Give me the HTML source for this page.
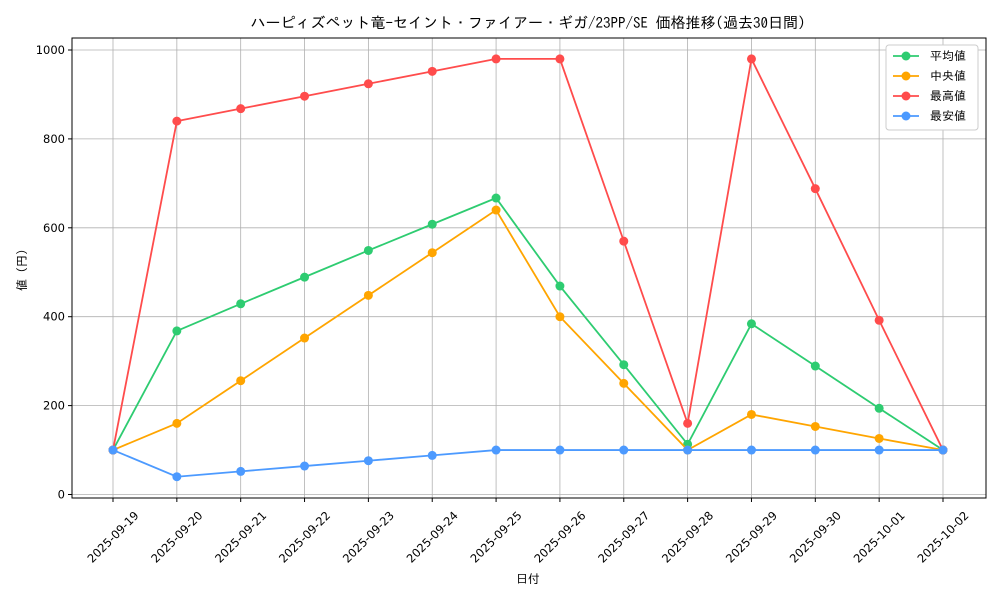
<!DOCTYPE html>
<html><head><meta charset="utf-8"><style>
body{margin:0;background:#fff}
svg{font-family:"DejaVu Sans","IPAGothic",sans-serif}
.cjk{font-family:"IPAGothic","Noto Sans CJK JP",monospace}
</style></head><body>
<svg id="chart" width="1000" height="600">
<text class="cjk" x="528" y="28" font-size="15" text-anchor="middle">ハーピィズペット竜-セイント・ファイアー・ギガ/23PP/SE 価格推移(過去30日間)</text>
<g id="grid"></g><g id="axes"></g><g id="series"></g><g id="legend"></g>
</svg>
<script>
const categories=["2025-09-19","2025-09-20","2025-09-21","2025-09-22","2025-09-23","2025-09-24","2025-09-25","2025-09-26","2025-09-27","2025-09-28","2025-09-29","2025-09-30","2025-10-01","2025-10-02"];
const avgValues=[100,368,429,489,549,608,667,469,292,113,384,289,194,100];
const medianValues=[100,160,256,352,448,544,640,400,250,100,180,153,126,100];
const maxValues=[100,840,868,896,924,952,980,980,570,160,980,688,392,100];
const minValues=[100,40,52,64,76,88,100,100,100,100,100,100,100,100];
const yTicks=[0,200,400,600,800,1000];
const seriesNames=["平均値","中央値","最高値","最安値"];
const NS="http://www.w3.org/2000/svg";
const L=72,R=986,T=38,B=498;
const x=i=>113+i*(943-113)/(categories.length-1);
const y=v=>494.5-v*0.4445;
function mk(p,tag,a){const e=document.createElementNS(NS,tag);for(const k in a)e.setAttribute(k,a[k]);p.appendChild(e);return e;}
const grid=document.getElementById('grid'),axes=document.getElementById('axes'),ser=document.getElementById('series'),leg=document.getElementById('legend');
categories.forEach((c,i)=>{
 const g=mk(grid,'line',{x1:x(i),x2:x(i),y1:T,y2:B,stroke:'#b0b0b0','stroke-width':0.8});
 
 
 mk(axes,'line',{x1:x(i),x2:x(i),y1:B,y2:B+4,stroke:'#000'});
 const cy=537;
 const t=mk(axes,'text',{x:x(i),y:cy+4,'font-size':11.5,'text-anchor':'middle',transform:`rotate(-45 ${x(i)} ${cy})`});
 t.textContent=c;
 
 
});
yTicks.forEach(v=>{
 const g=mk(grid,'line',{x1:L,x2:R,y1:y(v),y2:y(v),stroke:'#b0b0b0','stroke-width':0.8});
 
 
 mk(axes,'line',{x1:L-4,x2:L,y1:y(v),y2:y(v),stroke:'#000'});
 const t=mk(axes,'text',{x:L-7,y:y(v)+4,'font-size':11.5,'text-anchor':'end'});
 t.textContent=v;
 
 
});
const fr=mk(axes,'rect',{x:L,y:T,width:R-L,height:B-T,fill:'none',stroke:'#000','stroke-width':1});


const xt=mk(axes,'text',{x:528,y:583,'font-size':12,'text-anchor':'middle',class:'cjk'});xt.textContent='日付';


const yt=mk(axes,'text',{x:26,y:270,'font-size':12,'text-anchor':'middle',class:'cjk',transform:'rotate(-90 26 270)'});yt.textContent='値 (円)';


const data=[avgValues,medianValues,maxValues,minValues];
const colors=['#2ecc71','#ffa500','#ff4c4c','#4c9aff'];
[0,1,2,3].forEach(s=>{
 const pts=data[s].map((v,i)=>x(i)+','+y(v)).join(' ');
 const pl=mk(ser,'polyline',{points:pts,fill:'none',stroke:colors[s],'stroke-width':1.8});
 
 
 data[s].forEach((v,i)=>{
  const c=mk(ser,'circle',{cx:x(i),cy:y(v),r:4.5,fill:colors[s]});
  
  
 });
});
const lb=mk(leg,'rect',{x:886,y:45,width:92,height:85,fill:'#fff',stroke:'#ccc',rx:3});


seriesNames.forEach((n,s)=>{
 const yy=56+s*20;
 mk(leg,'line',{x1:893,x2:919,y1:yy,y2:yy,stroke:colors[s],'stroke-width':1.8});
 mk(leg,'circle',{cx:906,cy:yy,r:4.5,fill:colors[s]});
 const t=mk(leg,'text',{x:930,y:yy+4,'font-size':12,class:'cjk'});t.textContent=n;
 
 
});
</script>
</body></html>
